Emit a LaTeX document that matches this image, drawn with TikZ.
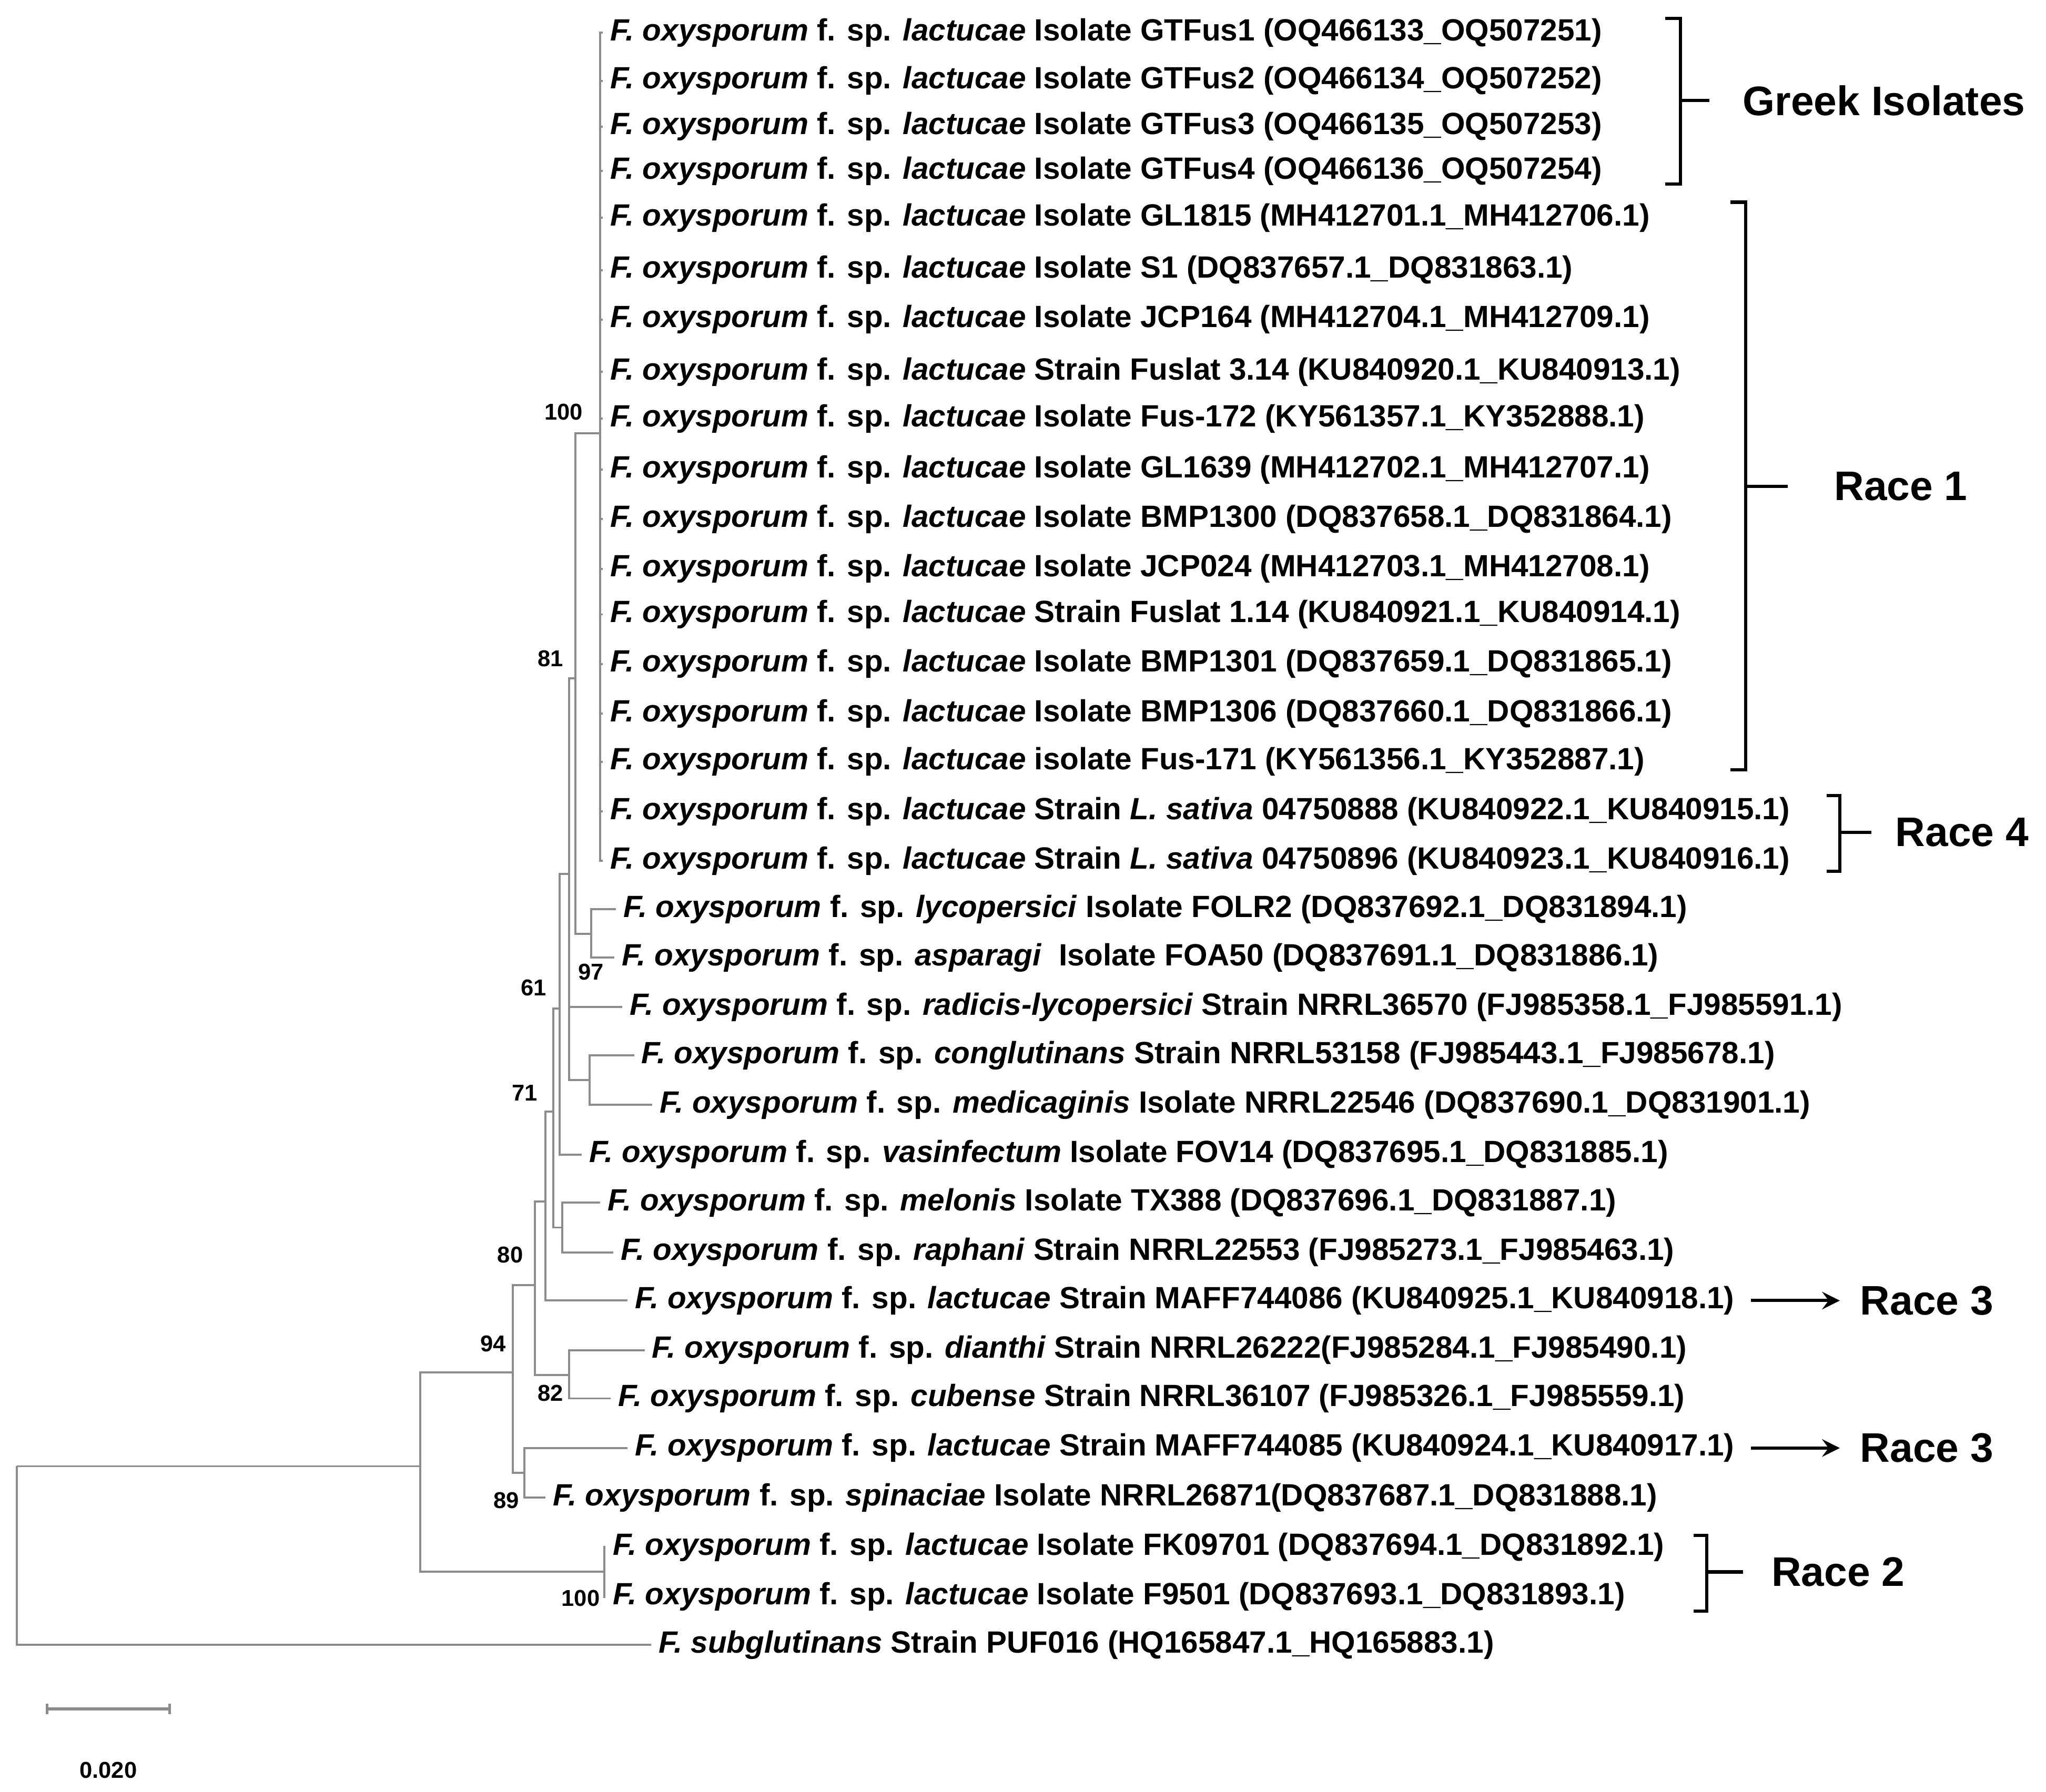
\documentclass[tikz,border=0pt]{standalone}
\usepackage{fontspec}
\setmainfont{Liberation Sans}
\begin{document}
\begin{tikzpicture}[x=0.01cm,y=-0.01cm,
  br/.style={draw=black!45,line width=0.45pt},
  leaf/.style={anchor=west,inner xsep=0.05cm,inner ysep=0pt,font=\fontsize{6.7}{7}\selectfont\bfseries},
  boot/.style={inner sep=0pt,font=\fontsize{5}{5}\selectfont\bfseries},
  grp/.style={anchor=west,inner sep=0pt,font=\fontsize{9}{9}\selectfont\bfseries},
  brk/.style={draw=black,line width=0.7pt},
  arr/.style={draw=black,line width=0.7pt,-stealth,shorten >=0.15cm}]
\useasboundingbox (0,0) rectangle (1568,1373.7);
\newcommand\fo[1]{\textit{F. oxysporum} f. sp. \textit{#1}}
% internal nodes
\coordinate (root) at (13,1124);
\coordinate (A) at (322,1124);
\coordinate (B) at (393,1052);
\coordinate (C) at (410,985);
\coordinate (E) at (418,921);
\coordinate (F) at (424,852);
\coordinate (G) at (429,773);
\coordinate (P) at (436,670);
\coordinate (M) at (441,520);
\coordinate (L) at (460,332);
\coordinate (N97) at (453,716);
\coordinate (Q) at (452,828);
\coordinate (Mel) at (431,941);
\coordinate (N82) at (436,1054);
\coordinate (N89) at (402,1129);
\coordinate (R2) at (463,1205);
% leaves
\node[leaf] (l1) at (462,25) {\fo{lactucae} Isolate GTFus1 (OQ466133\_OQ507251)};
\node[leaf] (l2) at (462,62) {\fo{lactucae} Isolate GTFus2 (OQ466134\_OQ507252)};
\node[leaf] (l3) at (462,97) {\fo{lactucae} Isolate GTFus3 (OQ466135\_OQ507253)};
\node[leaf] (l4) at (462,131) {\fo{lactucae} Isolate GTFus4 (OQ466136\_OQ507254)};
\node[leaf] (l5) at (462,167) {\fo{lactucae} Isolate GL1815 (MH412701.1\_MH412706.1)};
\node[leaf] (l6) at (462,207) {\fo{lactucae} Isolate S1 (DQ837657.1\_DQ831863.1)};
\node[leaf] (l7) at (462,245) {\fo{lactucae} Isolate JCP164 (MH412704.1\_MH412709.1)};
\node[leaf] (l8) at (462,285) {\fo{lactucae} Strain Fuslat 3.14 (KU840920.1\_KU840913.1)};
\node[leaf] (l9) at (462,321) {\fo{lactucae} Isolate Fus-172 (KY561357.1\_KY352888.1)};
\node[leaf] (l10) at (462,360) {\fo{lactucae} Isolate GL1639 (MH412702.1\_MH412707.1)};
\node[leaf] (l11) at (462,398) {\fo{lactucae} Isolate BMP1300 (DQ837658.1\_DQ831864.1)};
\node[leaf] (l12) at (462,436) {\fo{lactucae} Isolate JCP024 (MH412703.1\_MH412708.1)};
\node[leaf] (l13) at (462,471) {\fo{lactucae} Strain Fuslat 1.14 (KU840921.1\_KU840914.1)};
\node[leaf] (l14) at (462,509) {\fo{lactucae} Isolate BMP1301 (DQ837659.1\_DQ831865.1)};
\node[leaf] (l15) at (462,547) {\fo{lactucae} Isolate BMP1306 (DQ837660.1\_DQ831866.1)};
\node[leaf] (l16) at (462,584) {\fo{lactucae} isolate Fus-171 (KY561356.1\_KY352887.1)};
\node[leaf] (l17) at (462,622) {\fo{lactucae} Strain \textit{L. sativa} 04750888 (KU840922.1\_KU840915.1)};
\node[leaf] (l18) at (462,660) {\fo{lactucae} Strain \textit{L. sativa} 04750896 (KU840923.1\_KU840916.1)};
\node[leaf] (l19) at (472,697) {\fo{lycopersici} Isolate FOLR2 (DQ837692.1\_DQ831894.1)};
\node[leaf] (l20) at (471,734) {\fo{asparagi}\ \ Isolate FOA50 (DQ837691.1\_DQ831886.1)};
\node[leaf] (l21) at (477,772) {\fo{radicis-lycopersici} Strain NRRL36570 (FJ985358.1\_FJ985591.1)};
\node[leaf] (l22) at (486,809) {\fo{conglutinans} Strain NRRL53158 (FJ985443.1\_FJ985678.1)};
\node[leaf] (l23) at (500,847) {\fo{medicaginis} Isolate NRRL22546 (DQ837690.1\_DQ831901.1)};
\node[leaf] (l24) at (446,885) {\fo{vasinfectum} Isolate FOV14 (DQ837695.1\_DQ831885.1)};
\node[leaf] (l25) at (460,922) {\fo{melonis} Isolate TX388 (DQ837696.1\_DQ831887.1)};
\node[leaf] (l26) at (470,960) {\fo{raphani} Strain NRRL22553 (FJ985273.1\_FJ985463.1)};
\node[leaf] (l27) at (481,997) {\fo{lactucae} Strain MAFF744086 (KU840925.1\_KU840918.1)};
\node[leaf] (l28) at (494,1035) {\fo{dianthi} Strain NRRL26222(FJ985284.1\_FJ985490.1)};
\node[leaf] (l29) at (468,1072) {\fo{cubense} Strain NRRL36107 (FJ985326.1\_FJ985559.1)};
\node[leaf] (l30) at (481,1110) {\fo{lactucae} Strain MAFF744085 (KU840924.1\_KU840917.1)};
\node[leaf] (l31) at (418,1148) {\fo{spinaciae} Isolate NRRL26871(DQ837687.1\_DQ831888.1)};
\node[leaf] (l32) at (464,1186) {\fo{lactucae} Isolate FK09701 (DQ837694.1\_DQ831892.1)};
\node[leaf] (l33) at (464,1224) {\fo{lactucae} Isolate F9501 (DQ837693.1\_DQ831893.1)};
\node[leaf] (l34) at (499,1261) {\textit{F. subglutinans} Strain PUF016 (HQ165847.1\_HQ165883.1)};
% branches
\foreach \i in {1,...,18} {\draw[br] (L) |- (l\i.west);}
\draw[br] (root) |- (l34.west);
\draw[br] (root) -- (A);
\draw[br] (A) |- (B); \draw[br] (A) |- (R2);
\draw[br] (R2) |- (l32.west); \draw[br] (R2) |- (l33.west);
\draw[br] (B) |- (C); \draw[br] (B) |- (N89);
\draw[br] (N89) |- (l30.west); \draw[br] (N89) |- (l31.west);
\draw[br] (C) |- (E); \draw[br] (C) |- (N82);
\draw[br] (N82) |- (l28.west); \draw[br] (N82) |- (l29.west);
\draw[br] (E) |- (F); \draw[br] (E) |- (l27.west);
\draw[br] (F) |- (G); \draw[br] (F) |- (Mel);
\draw[br] (Mel) |- (l25.west); \draw[br] (Mel) |- (l26.west);
\draw[br] (G) |- (P); \draw[br] (G) |- (l24.west);
\draw[br] (P) |- (M); \draw[br] (P) |- (l21.west); \draw[br] (P) |- (Q);
\draw[br] (Q) |- (l22.west); \draw[br] (Q) |- (l23.west);
\draw[br] (M) |- (L); \draw[br] (M) |- (N97);
\draw[br] (N97) |- (l19.west); \draw[br] (N97) |- (l20.west);
% bootstrap values
\node[boot] (b100a) at (432,316) {100};
\node[boot] (b81) at (422,505) {81};
\node[boot] (b97) at (453,745) {97};
\node[boot] (b61) at (409,757) {61};
\node[boot] (b71) at (402,838) {71};
\node[boot] (b80) at (391,962) {80};
\node[boot] (b94) at (378,1030) {94};
\node[boot] (b82) at (422,1068) {82};
\node[boot] (b89) at (388,1150) {89};
\node[boot] (b100b) at (445,1225) {100};
% brackets and groups
\draw[brk] (1276,14) -- (1288,14) -- (1288,141) -- (1276,141);
\coordinate (gk) at (1288,77);
\node[grp] (greek) at (1335,77) {Greek Isolates};
\draw[brk] (gk) -- ++(22,0);
\draw[brk] (1326,155) -- (1338,155) -- (1338,590) -- (1326,590);
\coordinate (r1k) at (1338,373);
\node[grp] (race1) at (1405,373) {Race 1};
\draw[brk] (r1k) -- ++(32,0);
\draw[brk] (1400,610) -- (1410,610) -- (1410,668) -- (1400,668);
\coordinate (r4k) at (1410,638);
\node[grp] (race4) at (1452,638) {Race 4};
\draw[brk] (r4k) -- ++(24,0);
\draw[brk] (1298,1177) -- (1308,1177) -- (1308,1235) -- (1298,1235);
\coordinate (r2k) at (1308,1205);
\node[grp] (race2) at (1357,1205) {Race 2};
\draw[brk] (r2k) -- ++(28,0);
\coordinate (a1) at (1342,997);
\node[grp] (race3a) at (1425,997) {Race 3};
\draw[arr] (a1) -- (race3a.west);
\coordinate (a2) at (1342,1110);
\node[grp] (race3b) at (1425,1110) {Race 3};
\draw[arr] (a2) -- (race3b.west);
% scale bar
\coordinate (s1) at (36,1310);
\coordinate (s2) at (130,1310);
\draw[br,line width=0.6pt] (s1) -- (s2);
\draw[br,line width=0.6pt] ([yshift=0.04cm]s1) -- ([yshift=-0.04cm]s1);
\draw[br,line width=0.6pt] ([yshift=0.04cm]s2) -- ([yshift=-0.04cm]s2);
\node[boot] (scl) at (83,1357) {0.020};
\end{tikzpicture}
\end{document}
